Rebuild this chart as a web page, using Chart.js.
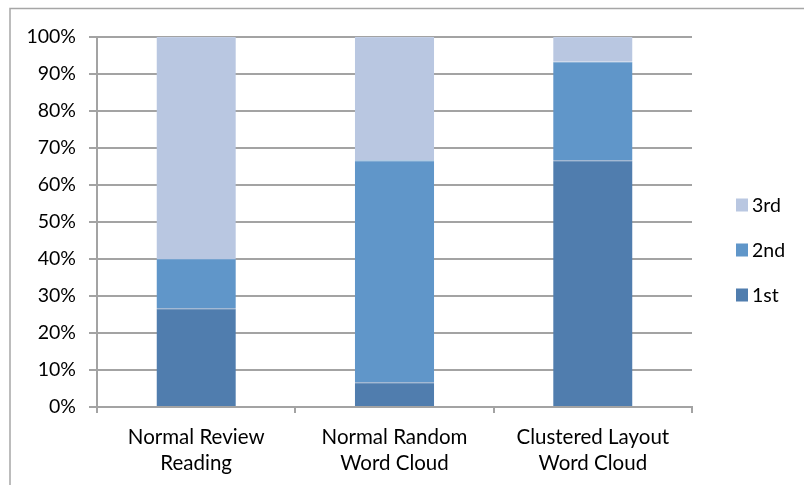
<!DOCTYPE html>
<html>
<head>
<meta charset="utf-8">
<script src="https://cdn.jsdelivr.net/npm/chart.js@4/dist/chart.umd.min.js"></script>
<style>
  html, body { margin: 0; padding: 0; background: #ffffff; }
  canvas { display: block; }
</style>
</head>
<body>
<canvas id="chart" width="804" height="485"></canvas>
<script>
// Categories (two-line axis labels)
const categories = [
  ['Normal Review', 'Reading'],
  ['Normal Random', 'Word Cloud'],
  ['Clustered Layout', 'Word Cloud']
];

// Share of participants per ranking (percent)
const first  = [26.7, 6.7, 66.7];
const second = [13.3, 60.0, 26.6];
const third  = [60.0, 33.3, 6.7];

const seriesNames = ['1st', '2nd', '3rd'];
const seriesColors = ['#507DAE', '#6096C9', '#B9C7E1'];
// slightly lighter top edge of each segment
const edgeColors = ['#6389b5', '#77a4d0', '#c3cfe6'];

// Value axis ticks
const yMin = 0;
const yMax = 100;
const yStep = 10;

const FONT = 'Lato, "Liberation Sans", sans-serif';
const GRID = '#a3a3a3';

// White page with the light grey chart frame
const framePlugin = {
  id: 'frame',
  beforeDraw(chart) {
    const ctx = chart.ctx;
    ctx.save();
    ctx.fillStyle = '#ffffff';
    ctx.fillRect(0, 0, chart.width, chart.height);
    ctx.strokeStyle = '#a6a6a6';
    ctx.lineWidth = 1.5;
    ctx.strokeRect(10, 8.5, chart.width + 20, chart.height + 20);
    ctx.restore();
  }
};

// Vertical legend on the right, top entry = last series
const sideLegend = {
  id: 'sideLegend',
  afterDraw(chart) {
    const ctx = chart.ctx;
    const ds = chart.data.datasets;
    const x = 736, box = 12, gap = 45, top = 204.5;
    ctx.save();
    ctx.font = '19.5px ' + FONT;
    ctx.textBaseline = 'middle';
    ctx.textAlign = 'left';
    for (let i = ds.length - 1, row = 0; i >= 0; i--, row++) {
      const cy = top + row * gap;
      ctx.fillStyle = ds[i].backgroundColor;
      ctx.fillRect(x, cy - box / 2, box, box + 1);
      ctx.fillStyle = '#000000';
      ctx.fillText(ds[i].label, x + 16, cy + 1);
    }
    ctx.restore();
  }
};

new Chart(document.getElementById('chart'), {
  type: 'bar',
  data: {
    labels: categories,
    datasets: seriesNames.map((name, i) => ({
      label: name,
      data: [first, second, third][i],
      backgroundColor: seriesColors[i],
      borderColor: edgeColors[i]
    }))
  },
  options: {
    responsive: false,
    animation: false,
    devicePixelRatio: 1,
    layout: { padding: { top: 37, right: 112, bottom: 0, left: 0 } },
    datasets: {
      bar: {
        barPercentage: 0.4,
        categoryPercentage: 1,
        borderSkipped: false,
        borderWidth: { top: 1, right: 0, bottom: 0, left: 0 }
      }
    },
    plugins: {
      legend: { display: false },
      tooltip: { enabled: false }
    },
    scales: {
      x: {
        stacked: true,
        grid: {
          drawOnChartArea: false,
          drawTicks: true,
          tickLength: 6,
          color: GRID,
          lineWidth: 2
        },
        border: { display: true, color: GRID, width: 2 },
        ticks: {
          color: '#000000',
          font: { family: FONT, size: 20.5, lineHeight: 1.27 },
          padding: 11,
          maxRotation: 0,
          autoSkip: false
        },
        afterFit(scale) { scale.height = 78; }
      },
      y: {
        stacked: true,
        min: yMin,
        max: yMax,
        grid: {
          color: GRID,
          lineWidth: 2,
          drawTicks: true,
          tickLength: 8
        },
        border: { display: true, color: GRID, width: 2 },
        ticks: {
          stepSize: yStep,
          color: '#000000',
          font: { family: FONT, size: 19.5 },
          padding: 13,
          callback: v => v + '%'
        },
        afterFit(scale) { scale.width = 97; }
      }
    }
  },
  plugins: [framePlugin, sideLegend]
});
</script>
</body>
</html>
